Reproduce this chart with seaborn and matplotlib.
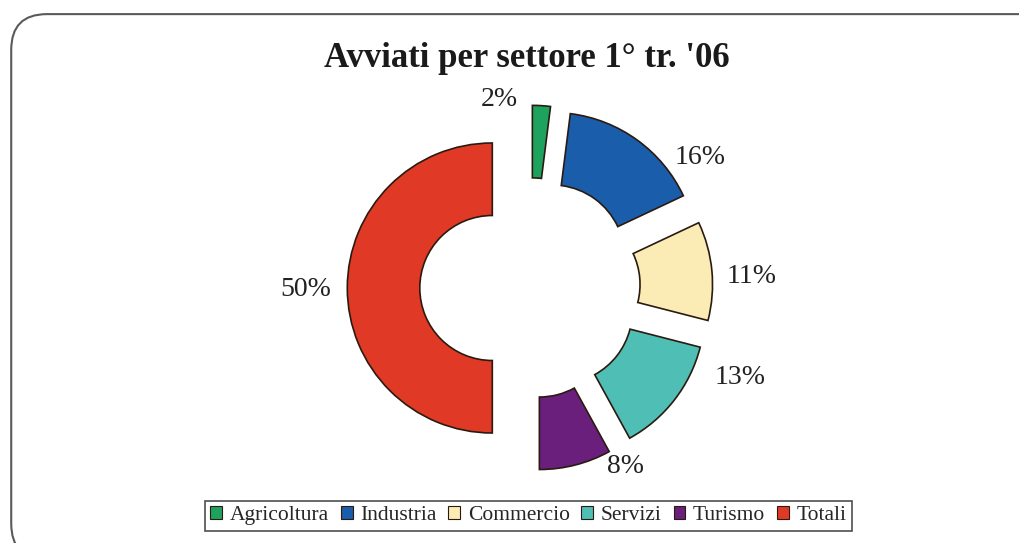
import matplotlib
matplotlib.use("Agg")
import matplotlib.pyplot as plt
from matplotlib.patches import FancyBboxPatch
import seaborn as sns

sns.set_theme(style="white")
plt.rcParams['font.family'] = ['Liberation Serif', 'DejaVu Serif']

# data
sectors = ['Agricoltura', 'Industria', 'Commercio', 'Servizi', 'Turismo', 'Totali']
values = [2, 16, 11, 13, 8, 50]
colors = ['#1ea35e', '#1a5dab', '#fbebb5', '#4fbfb5', '#6b1f7c', '#e03a26']
title = "Avviati per settore 1° tr. '06"

# where Excel dropped each percentage label (data units, pie radius = 1)
label_pos = [(-0.21, 1.30), (1.17, 0.90), (1.53, 0.08),
             (1.45, -0.62), (0.66, -1.23), (-1.55, -0.01)]

fig = plt.figure(figsize=(10.2, 5.43), dpi=100)

# rounded frame around the chart (runs off the right and bottom edges)
frame = FancyBboxPatch((0.011, -0.03), 1.2, 1.004, transform=fig.transFigure,
                       boxstyle="round,pad=0,rounding_size=0.035",
                       fc='none', ec='#5a5a5a', lw=1.5, mutation_aspect=1.88,
                       zorder=-1)
fig.patches.append(frame)

ax = fig.add_axes([0, 0, 1, 1])
ax.set_axis_off()

wedges, texts = ax.pie(values, labels=[f'{v}%' for v in values],
                       colors=colors, startangle=90, counterclock=False,
                       explode=[0.26] * len(values), labeldistance=1.25,
                       wedgeprops=dict(width=0.5, edgecolor='#2a1a10', linewidth=1.2),
                       textprops=dict(fontsize=20, color='#222222'))
for t, (x, y) in zip(texts, label_pos):
    t.set_position((x, y))
    t.set_ha('center')
    t.set_va('center')

# keep 1 data unit = 145 px, pie centre at (530, 288) px
ax.set_xlim(-530 / 145, (1020 - 530) / 145)
ax.set_ylim(-(543 - 288) / 145, 288 / 145)
ax.set_aspect('auto')

fig.text(0.516, 0.893, title, ha='center', va='center',
         fontsize=25, fontweight='bold', color='#1a1a1a')

leg = fig.legend(wedges, sectors, loc='center', bbox_to_anchor=(0.518, 0.05),
                 ncol=6, fontsize=15.5, frameon=True, fancybox=False,
                 handlelength=0.55, handleheight=0.55, handletextpad=0.35,
                 columnspacing=0.55, borderpad=0.25, borderaxespad=0)
leg.get_frame().set_edgecolor('#222222')
leg.get_frame().set_linewidth(1.2)
for h in leg.legend_handles:
    h.set_linewidth(0.8)

fig.savefig('out.png', dpi=100)
